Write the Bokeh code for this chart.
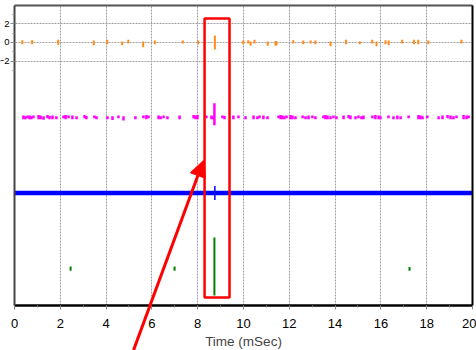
from bokeh.plotting import figure
from bokeh.models import (FixedTicker, SingleIntervalTicker, ColumnDataSource, BoxAnnotation,
                          Arrow, NormalHead, LinearAxis)
from bokeh.embed import file_html
from bokeh.resources import INLINE

# ---- data (time in mSec, amplitudes in channel units) ----
time_range = [0, 20]
channel_base = [0.0, -8.0, -16.1, -24.2]   # orange, magenta, blue, green

orange_t = [0.34, 0.77, 1.91, 3.46, 4.05, 4.70, 4.97, 5.62, 6.13, 7.35, 8.02, 8.75,
            9.99, 10.21, 10.31, 10.48, 11.06, 11.40, 11.44, 12.17, 12.61, 12.93, 13.14,
            13.80, 14.48, 15.08, 15.62, 15.81, 16.20, 16.34, 16.93, 17.44, 17.63, 18.07, 19.52]
orange_up = [0.25, 0.25, 0.3, 0.2, 0.3, 0.1, 0.3, 0.1, 0.2, 0.2, 0.2, 0.75,
             0.2, 0.25, 0.1, 0.3, 0.1, 0.15, 0.1, 0.25, 0.2, 0.2, 0.2,
             0.1, 0.3, 0.1, 0.3, 0.1, 0.25, 0.2, 0.3, 0.3, 0.3, 0.2, 0.3]
orange_dn = [0.2, 0.2, 0.25, 0.3, 0.2, 0.3, 0.1, 0.5, 0.2, 0.1, 0.2, 0.75,
             0.2, 0.1, 0.35, 0.1, 0.35, 0.35, 0.3, 0.1, 0.2, 0.1, 0.2,
             0.4, 0.2, 0.2, 0.1, 0.4, 0.2, 0.3, 0.1, 0.2, 0.2, 0.2, 0.1]

magenta_t = [0.39, 0.48, 0.57, 0.66, 0.74, 0.83, 1.05, 1.14, 1.27, 1.44, 1.53, 1.66, 1.83,
             2.14, 2.23, 2.36, 2.53, 2.71, 3.06, 3.14, 3.49, 3.58, 4.06, 4.28, 4.54, 4.76,
             5.28, 5.63, 5.76, 5.85, 6.29, 6.38, 6.51, 6.68, 7.21, 7.82, 7.90, 7.99, 8.38,
             8.60, 8.69, 8.73, 9.08, 9.17, 9.56, 9.78, 10.09, 10.44, 10.61, 10.70, 10.87,
             11.05, 11.53, 11.62, 11.70, 11.79, 11.88, 12.05, 12.14, 12.27, 12.58, 12.71,
             12.84, 13.01, 13.14, 13.49, 13.58, 13.67, 13.80, 13.93, 14.06, 14.37, 14.59,
             14.67, 14.89, 15.02, 15.15, 15.24, 15.63, 15.76, 15.90, 15.98, 16.33, 16.55,
             16.72, 16.86, 17.21, 17.64, 17.73, 17.82, 18.03, 18.52, 18.69, 18.91, 19.04,
             19.17, 19.30, 19.61, 19.74, 19.83]
magenta_up = [0.2, 0.1, 0.2, 0.2, 0.1, 0.2, 0.25, 0.2, 0.1, 0.25, 0.15, 0.2, 0.1,
              0.2, 0.25, 0.2, 0.2, 0.1, 0.25, 0.15, 0.2, 0.1, 0.1, 0.1, 0.2, 0.1,
              0.1, 0.2, 0.25, 0.2, 0.2, 0.1, 0.2, 0.1, 0.2, 0.25, 0.2, 0.25, 0.2,
              0.2, 0.1, 1.5, 0.2, 0.15, 0.2, 0.2, 0.1, 0.2, 0.1, 0.2, 0.2,
              0.1, 0.2, 0.25, 0.2, 0.1, 0.2, 0.25, 0.2, 0.1, 0.2, 0.1,
              0.2, 0.2, 0.1, 0.2, 0.25, 0.2, 0.1, 0.2, 0.1, 0.2, 0.25,
              0.2, 0.1, 0.2, 0.1, 0.2, 0.2, 0.25, 0.2, 0.1, 0.2, 0.1,
              0.2, 0.1, 0.2, 0.25, 0.2, 0.1, 0.2, 0.1, 0.2, 0.25, 0.2,
              0.1, 0.2, 0.25, 0.2, 0.2]
magenta_dn = [0.2, 0.2, 0.1, 0.2, 0.2, 0.1, 0.2, 0.2, 0.25, 0.1, 0.2, 0.2, 0.2,
              0.1, 0.2, 0.1, 0.2, 0.2, 0.1, 0.2, 0.1, 0.2, 0.2, 0.3, 0.1, 0.35,
              0.2, 0.1, 0.2, 0.1, 0.2, 0.2, 0.1, 0.2, 0.2, 0.1, 0.2, 0.2, 0.1,
              0.2, 0.2, 0.86, 0.1, 0.2, 0.2, 0.1, 0.2, 0.2, 0.2, 0.1, 0.2,
              0.2, 0.1, 0.2, 0.2, 0.2, 0.1, 0.2, 0.2, 0.2, 0.1, 0.2,
              0.2, 0.1, 0.2, 0.1, 0.2, 0.2, 0.2, 0.1, 0.2, 0.2, 0.1,
              0.2, 0.2, 0.1, 0.2, 0.2, 0.1, 0.2, 0.2, 0.2, 0.1, 0.2,
              0.2, 0.2, 0.1, 0.2, 0.2, 0.2, 0.1, 0.2, 0.2, 0.1, 0.2,
              0.2, 0.1, 0.2, 0.2, 0.1]

blue_spike_t = [8.75]
blue_spike_up = [0.75]
blue_spike_dn = [0.75]

green_t = [2.45, 6.99, 8.73, 17.25]
green_up = [0.25, 0.25, 3.35, 0.2]
green_dn = [0.2, 0.2, 2.86, 0.2]

highlight_t = [8.30, 9.39]
highlight_y = [2.57, -27.27]
arrow_from = [5.2, -32.9]
arrow_to = [8.25, -12.62]

y_ticks = [-2, 0, 2]
y_minor = [-3, -1, 1, 3]

# plot box in data units (the frame is a little larger, so that the
# left labels and the arrow tail below the time axis can show)
Y_TOP, Y_AXIS = 3.96, -28.13
X_VIEW = (-0.611, 20.175)
Y_VIEW = (-32.94, 4.49)

FONT = "Liberation Sans"

p = figure(width=476, height=350, x_range=X_VIEW, y_range=Y_VIEW,
           output_backend="svg", toolbar_location=None, title=None,
           min_border_left=0, min_border_right=0, min_border_top=0, min_border_bottom=0)
p.background_fill_color = "white"
p.border_fill_color = "white"
p.outline_line_color = None

# x axis, drawn inside the frame
xa = p.xaxis[0]
xa.fixed_location = Y_AXIS
xa.bounds = tuple(time_range)
xa.ticker = SingleIntervalTicker(interval=2, num_minor_ticks=2)
xa.axis_label = "Time (mSec)"
xa.axis_label_text_font = FONT
xa.axis_label_text_font_style = "normal"
xa.axis_label_text_font_size = "13.5px"
xa.axis_label_standoff = 3
xa.major_label_text_font = FONT
xa.major_label_text_font_size = "13px"
xa.major_label_text_color = "black"
xa.major_label_standoff = 9
xa.axis_line_color = "black"
xa.axis_line_width = 2.5
xa.major_tick_in = 0
xa.major_tick_out = 4
xa.minor_tick_in = 0
xa.minor_tick_out = 2
xa.major_tick_line_color = "#888888"
xa.minor_tick_line_color = "#888888"

# y axis at t = 0
ya = p.yaxis[0]
ya.fixed_location = time_range[0]
ya.ticker = FixedTicker(ticks=y_ticks, minor_ticks=y_minor)
ya.bounds = (Y_AXIS, Y_TOP)
ya.major_label_text_font = FONT
ya.major_label_text_font_size = "9.5px"
ya.major_label_text_color = "black"
ya.major_label_standoff = 1
ya.axis_line_color = "#444444"
ya.axis_line_width = 2
ya.major_tick_in = 0
ya.major_tick_out = 4
ya.minor_tick_in = 0
ya.minor_tick_out = 2
ya.major_tick_line_color = "#888888"
ya.minor_tick_line_color = "#888888"

# frame borders (top and right)
top_ax = LinearAxis(ticker=FixedTicker(ticks=[]), major_label_text_font_size="0px",
                    major_tick_out=0, minor_tick_out=0, major_label_standoff=0,
                    axis_line_color="#555555", axis_line_width=2,
                    fixed_location=Y_TOP, bounds=tuple(time_range))
p.add_layout(top_ax, "above")
right_ax = LinearAxis(ticker=FixedTicker(ticks=[]), major_label_text_font_size="0px",
                      major_tick_out=0, minor_tick_out=0, major_label_standoff=0,
                      axis_line_color="black", axis_line_width=2,
                      fixed_location=time_range[1], bounds=(Y_AXIS, Y_TOP))
p.add_layout(right_ax, "right")

p.xgrid.grid_line_color = "#a0a0a0"
p.xgrid.grid_line_dash = "2 1"
p.ygrid.grid_line_color = "#a0a0a0"
p.ygrid.grid_line_dash = "2 1"

# keep the grid inside the plot box
for kw in (dict(top=Y_AXIS), dict(bottom=Y_TOP), dict(right=time_range[0]), dict(left=time_range[1])):
    p.add_layout(BoxAnnotation(fill_color="white", fill_alpha=1, line_color=None,
                               level="underlay", **kw))

def spikes(t, up, dn, base, color, width):
    src = ColumnDataSource(dict(x=t, y0=[base + u for u in up], y1=[base - d for d in dn]))
    p.segment(x0="x", y0="y0", x1="x", y1="y1", source=src, line_color=color, line_width=width)

spikes(orange_t, orange_up, orange_dn, channel_base[0], "#FF8C1A", 2)
spikes(magenta_t, magenta_up, magenta_dn, channel_base[1], "#FF00FF", 2.5)
p.line(time_range, [channel_base[2]] * len(time_range), line_color="#0000FF", line_width=4.5)
spikes(blue_spike_t, blue_spike_up, blue_spike_dn, channel_base[2], "#0000FF", 1.5)
spikes(green_t, green_up, green_dn, channel_base[3], "#008000", 2)

box = BoxAnnotation(left=highlight_t[0], right=highlight_t[1], top=highlight_y[0], bottom=highlight_y[1],
                    fill_alpha=0, line_color="red", line_alpha=1, line_width=2.5)
p.add_layout(box)
arr = Arrow(x_start=arrow_from[0], y_start=arrow_from[1], x_end=arrow_to[0], y_end=arrow_to[1],
            line_color="red", line_width=3,
            end=NormalHead(size=16, fill_color="red", line_color="red"))
p.add_layout(arr)

open("out.html", "w").write(file_html(p, INLINE))
